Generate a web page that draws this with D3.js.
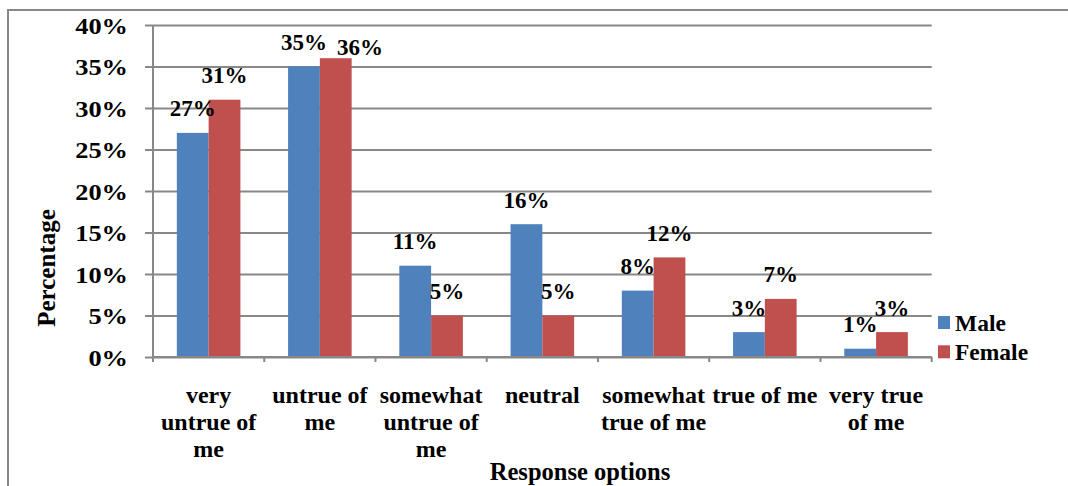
<!DOCTYPE html>
<html>
<head>
<meta charset="utf-8">
<script src="https://cdn.jsdelivr.net/npm/d3@7"></script>
<style>
  html, body { margin: 0; padding: 0; background: #fff; }
  svg { display: block; }
  text { font-family: "Liberation Serif", "Times New Roman", Times, serif; font-weight: bold; fill: #000; }
</style>
</head>
<body>
<svg id="chart" width="1068" height="486"></svg>
<script>
// Response categories and percentage per gender
const categories = ["very untrue of me", "untrue of me", "somewhat untrue of me", "neutral",
                    "somewhat true of me", "true of me", "very true of me"];
const seriesNames = ["Male", "Female"];
const maleValues = [27, 35, 11, 16, 8, 3, 1];
const femaleValues = [31, 36, 5, 5, 12, 7, 3];
const yTicks = [0, 5, 10, 15, 20, 25, 30, 35, 40];
const colors = ["#4F81BD", "#C0504D"];

const svg = d3.select("#chart");
const W = 1068, H = 486;
const plot = { left: 153, right: 931.7, top: 25, bottom: 357 };
const gridColor = "#888888";

// outer chart frame (open to the right and bottom)
svg.append("rect")
  .attr("x", 8).attr("y", 10)
  .attr("width", W + 20).attr("height", H + 20)
  .attr("fill", "none").attr("stroke", gridColor).attr("stroke-width", 2);

const x0 = d3.scaleBand().domain(categories).range([plot.left, plot.right]).padding(0);
const step = x0.step();
const barW = step / 3.5;             // two bars plus a 150% gap
const x1 = d3.scaleBand().domain(seriesNames).range([0, barW * 2]);
const y = d3.scaleLinear().domain([0, 40]).range([plot.bottom, plot.top]);

// horizontal gridlines with left-side ticks
const yAxis = d3.axisLeft(y).tickValues(yTicks).tickSize(-(plot.right - plot.left)).tickFormat(() => "");
const yg = svg.append("g").attr("transform", `translate(${plot.left},0)`).call(yAxis);
yg.select(".domain").remove();
yg.selectAll(".tick line").attr("stroke", gridColor).attr("stroke-width", 2).attr("x1", -8);

// vertical axis line
svg.append("line")
  .attr("x1", plot.left).attr("x2", plot.left)
  .attr("y1", plot.top).attr("y2", plot.bottom + 5)
  .attr("stroke", gridColor).attr("stroke-width", 2);

// y tick labels (slightly widened glyphs)
svg.append("g").selectAll("text").data(yTicks).join("text")
  .attr("transform", d => `translate(128,${y(d) + 8.5}) scale(1.1,1)`)
  .attr("text-anchor", "end")
  .style("font-size", "24px")
  .text(d => d + "%");

// category boundary ticks along the baseline
const boundaries = categories.map(c => x0(c)).concat([plot.right]);
svg.append("g").selectAll("line").data(boundaries).join("line")
  .attr("x1", d => d).attr("x2", d => d)
  .attr("y1", plot.bottom).attr("y2", plot.bottom + 5)
  .attr("stroke", gridColor).attr("stroke-width", 2);

// bars
const table = categories.map((c, i) => ({ cat: c, vals: [maleValues[i], femaleValues[i]] }));
const groups = svg.append("g").selectAll("g").data(table).join("g")
  .attr("transform", d => `translate(${x0(d.cat) + (step - barW * 2) / 2},0)`);

groups.selectAll("rect").data(d => d.vals.map((v, j) => ({ name: seriesNames[j], v, j }))).join("rect")
  .attr("x", d => x1(d.name))
  .attr("y", d => y(d.v))
  .attr("width", x1.bandwidth())
  .attr("height", d => y(0) - y(d.v))
  .attr("fill", d => colors[d.j]);

// baseline
svg.append("line")
  .attr("x1", plot.left).attr("x2", plot.right)
  .attr("y1", plot.bottom).attr("y2", plot.bottom)
  .attr("stroke", gridColor).attr("stroke-width", 2);

// value labels above bars
groups.each(function () {
  const labels = d3.select(this).selectAll("text.val")
    .data(d => d.vals.map((v, j) => ({ name: seriesNames[j], v, j }))).join("text")
    .attr("class", "val")
    .attr("x", d => x1(d.name) + x1.bandwidth() / 2)
    .attr("y", d => y(d.v) - 16.5)
    .attr("text-anchor", "middle")
    .style("font-size", "23px")
    .text(d => d.v + "%");
  // push the second label aside when the two clearly collide
  const nodes = labels.nodes();
  const a = nodes[0].getBBox(), b = nodes[1].getBBox();
  const overlapX = a.x + a.width - b.x;
  const overlapY = Math.min(a.y + a.height, b.y + b.height) - Math.max(a.y, b.y);
  if (overlapX > 8 && overlapY > 8) {
    const sel = d3.select(nodes[1]);
    sel.attr("x", +sel.attr("x") + overlapX + 10)
       .attr("y", +sel.attr("y") + 13);
  }
});

// wrapped category labels
const catG = svg.append("g");
categories.forEach(c => {
  const cx = x0(c) + step / 2;
  const t = catG.append("text").attr("text-anchor", "middle").style("font-size", "24px");
  const words = c.split(" ");
  const lines = [];
  let cur = [];
  const probe = catG.append("text").style("font-size", "24px");
  words.forEach(w => {
    const test = cur.concat([w]).join(" ");
    probe.text(test);
    if (cur.length && probe.node().getComputedTextLength() > step - 2) {
      lines.push(cur.join(" "));
      cur = [w];
    } else {
      cur.push(w);
    }
  });
  lines.push(cur.join(" "));
  probe.remove();
  lines.forEach((ln, i) => {
    t.append("tspan").attr("x", cx).attr("y", 403 + i * 27).text(ln);
  });
});

// axis titles
svg.append("text")
  .attr("x", 580).attr("y", 480)
  .attr("text-anchor", "middle")
  .style("font-size", "24.5px")
  .text("Response options");

svg.append("text")
  .attr("transform", "translate(55,268) rotate(-90)")
  .attr("text-anchor", "middle")
  .style("font-size", "25px")
  .text("Percentage");

// legend
const legend = svg.append("g");
seriesNames.forEach((n, i) => {
  const ly = 316 + i * 29.3;
  legend.append("rect").attr("x", 938).attr("y", ly).attr("width", 12).attr("height", 13).attr("fill", colors[i]);
  legend.append("text").attr("x", 955).attr("y", ly + 15).style("font-size", "23.5px").text(n);
});
</script>
</body>
</html>
